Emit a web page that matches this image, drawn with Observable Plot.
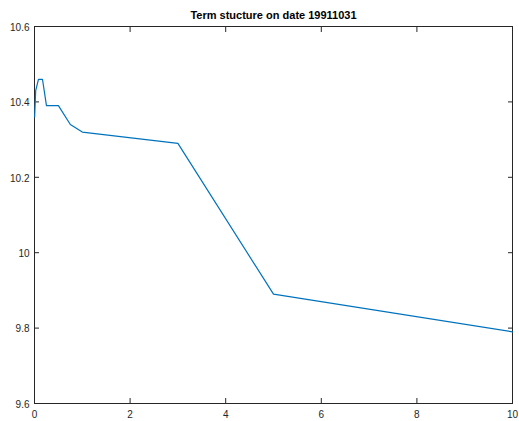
<!DOCTYPE html>
<html>
<head>
<meta charset="utf-8">
<script src="https://cdn.jsdelivr.net/npm/d3@7"></script>
<script src="https://cdn.jsdelivr.net/npm/@observablehq/plot@0.6"></script>
<style>
  html, body { margin: 0; padding: 0; background: #fff; }
  svg { display: block; }
</style>
</head>
<body>
<div id="chart"></div>
<script>
const titleText = "Term stucture on date 19911031";
const maturities = [0.003, 0.025, 0.083, 0.167, 0.25, 0.5, 0.75, 1, 3, 5, 10];
const rates      = [10.36, 10.43, 10.46, 10.46, 10.39, 10.39, 10.34, 10.32, 10.29, 9.89, 9.79];
const xTicks = [0, 2, 4, 6, 8, 10];
const yTicks = [9.6, 9.8, 10, 10.2, 10.4, 10.6];

const data = maturities.map((m, i) => ({m, r: rates[i]}));
const axisColor = "#262626";

const plot = Plot.plot({
  width: 519,
  height: 421,
  marginLeft: 34,
  marginRight: 7,
  marginTop: 26,
  marginBottom: 18,
  style: {fontFamily: "'Liberation Sans', Arial, sans-serif", fontSize: "10px", color: axisColor, background: "#fff"},
  x: {domain: [0, 10]},
  y: {domain: [9.6, 10.6]},
  marks: [
    Plot.frame({stroke: axisColor, strokeWidth: 1}),
    Plot.axisX(xTicks, {anchor: "bottom", tickSize: 0, tickPadding: 7, label: null, tickFormat: d => String(d), fill: axisColor}),
    Plot.axisX(xTicks, {anchor: "bottom", tickSize: -5, text: null, label: null, stroke: axisColor}),
    Plot.axisX(xTicks, {anchor: "top", tickSize: -5, text: null, label: null, stroke: axisColor}),
    Plot.axisY(yTicks, {anchor: "left", tickSize: 0, tickPadding: 5, dy: 1, label: null, tickFormat: d => String(d), fill: axisColor}),
    Plot.axisY(yTicks, {anchor: "left", tickSize: -5, text: null, label: null, stroke: axisColor}),
    Plot.axisY(yTicks, {anchor: "right", tickSize: -5, text: null, label: null, stroke: axisColor}),
    Plot.line(data, {x: "m", y: "r", stroke: "#0072BD", strokeWidth: 1.2}),
    Plot.text([titleText], {frameAnchor: "top", dy: -15, text: d => d, fontWeight: "bold", fontSize: 11, fill: "#000"})
  ]
});
document.getElementById("chart").appendChild(plot);
</script>
</body>
</html>
